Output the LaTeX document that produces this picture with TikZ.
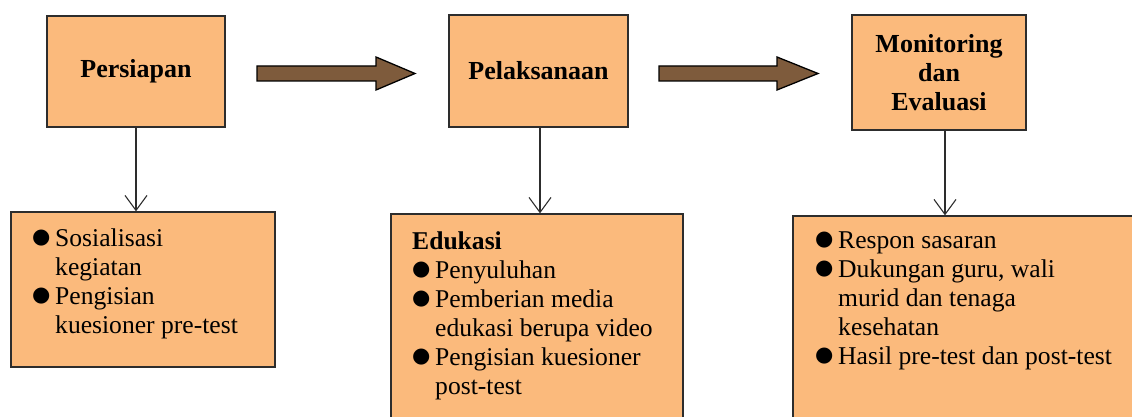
\documentclass[tikz,border=0pt]{standalone}
\usepackage{fontspec}
\setmainfont{Liberation Serif}
\newfontfamily\symfont{DejaVu Sans}
\usetikzlibrary{arrows.meta,calc}
\definecolor{boxfill}{RGB}{251,186,124}
\definecolor{boxline}{RGB}{45,45,45}
\definecolor{arrowfill}{RGB}{126,91,60}
\newcommand{\bul}{\makebox[23pt][l]{\raisebox{2.5pt}{\symfont\fontsize{21}{21}\selectfont ●}}}
\newcommand{\blinex}[1]{\hbox{\bul #1}}
\newcommand{\clinex}[1]{\hbox{\hspace*{23pt}#1}}
\begin{document}
\begin{tikzpicture}[x=1pt,y=-1pt,
  box/.style={draw=boxline, line width=1.3pt, fill=boxfill, rectangle, inner sep=0pt},
  title/.style={font=\fontsize{26}{29}\selectfont\bfseries, align=center},
  body/.style={font=\fontsize{25.6}{29}\selectfont, inner sep=0pt, anchor=base west},
  conn/.style={line width=1.1pt, draw=boxline, -{Straight Barb[length=15pt,width=22pt,line width=1.1pt]}},
  bigarrow/.style={draw=black, line width=1.3pt, fill=arrowfill, line join=miter}]
\useasboundingbox (0,0) rectangle (1132,417);
\clip (0,0) rectangle (1132,417);

% top boxes
\node[box, title, minimum width=178pt, minimum height=111pt] (top1) at (136,71.5) {Persiapan};
\node[box, title, minimum width=179pt, minimum height=112pt] (top2) at (538.5,71) {Pelaksanaan};
\node[box, title, minimum width=174pt, minimum height=115pt] (top3) at (939,72.5) {Monitoring\\dan\\Evaluasi};

% block arrows
\draw[bigarrow] (257,66) -- (376,66) -- (376,57) -- (415,73.5) -- (376,90) -- (376,81) -- (257,81) -- cycle;
\draw[bigarrow] (659,66) -- (777,66) -- (777,57) -- (818,73.5) -- (777,90) -- (777,81) -- (659,81) -- cycle;

% bottom boxes
\node[box, minimum width=264pt, minimum height=155pt] (bot1) at (143,289.5) {};
\node[box, minimum width=292pt, minimum height=236pt] (bot2) at (537,332) {};
\node[box, minimum width=357pt, minimum height=234pt] (bot3) at (971.5,333) {};

% connectors
\draw[conn] (top1.south) -- (top1.south |- bot1.north);
\draw[conn] ([xshift=1.5pt]top2.south) -- ([xshift=1.5pt]top2.south |- bot2.north);
\draw[conn] ([xshift=6pt]top3.south) -- ([xshift=6pt]top3.south |- bot3.north);

% texts
\node[body] (txt1) at (32,246) {\vtop{\blinex{Sosialisasi}\clinex{kegiatan}\blinex{Pengisian}\clinex{kuesioner pre-test}}};
\node[body] (txt2) at (412,249) {\vtop{\hbox{\bfseries Edukasi}\blinex{Penyuluhan}\blinex{Pemberian media}\clinex{edukasi berupa video}\blinex{Pengisian kuesioner}\clinex{post-test}}};
\node[body] (txt3) at (815,248) {\vtop{\blinex{Respon sasaran}\blinex{Dukungan guru, wali}\clinex{murid dan tenaga}\clinex{kesehatan}\blinex{Hasil pre-test dan post-test}}};
\end{tikzpicture}
\end{document}
